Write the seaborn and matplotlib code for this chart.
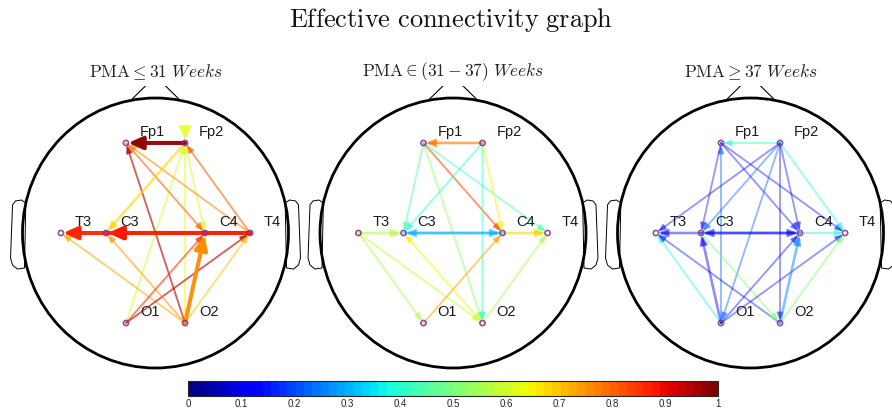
import numpy as np
import pandas as pd
import matplotlib
matplotlib.use("Agg")
import matplotlib.pyplot as plt
from matplotlib.patches import FancyArrowPatch, Ellipse, ArrowStyle
from matplotlib.cm import ScalarMappable
from matplotlib.colors import Normalize
import seaborn as sns

# ---------------- data ----------------
title = r"$\mathrm{Effective\ connectivity\ graph}$"
panel_titles = [r"$\mathrm{PMA} \leq 31\ Weeks$",
                r"$\mathrm{PMA} \in (31-37)\ Weeks$",
                r"$\mathrm{PMA} \geq 37\ Weeks$"]
electrodes = ["Fp1", "Fp2", "T3", "C3", "C4", "T4", "O1", "O2"]

# group 1: PMA <= 31 weeks
g1_source = ["O2", "O1", "Fp2", "O2", "Fp2", "T4", "O1", "O2", "T4", "O2", "O2",
             "Fp1", "O1", "O2", "Fp2", "C4", "T4", "T4"]
g1_target = ["Fp2", "Fp2", "C4", "T3", "C3", "Fp1", "T4", "T4", "Fp2", "C3", "Fp1",
             "C4", "C4", "C4", "Fp1", "C3", "C3", "T3"]
g1_strength = [0.64, 0.60, 0.60, 0.72, 0.68, 0.75, 0.95, 0.69, 0.80, 0.74, 0.95,
               0.80, 0.85, 0.76, 0.97, 0.87, 0.88, 0.87]
g1_weight = [1, 1, 1, 1, 2, 1, 1, 1, 1, 1, 1,
             1, 1, 3, 3, 3, 3, 3]

# group 2: PMA in (31-37) weeks
g2_source = ["Fp1", "Fp1", "Fp1", "Fp1", "Fp2", "Fp2", "Fp2", "T3", "T3", "T3",
             "O2", "O1", "O2", "C4", "C4", "C3", "Fp2"]
g2_target = ["C3", "O2", "C4", "T4", "C3", "O2", "C4", "C3", "O1", "O2",
             "C3", "C4", "T4", "T4", "C3", "C4", "Fp1"]
g2_strength = [0.45, 0.53, 0.82, 0.43, 0.38, 0.40, 0.64, 0.57, 0.55, 0.58,
               0.65, 0.72, 0.55, 0.68, 0.30, 0.30, 0.77]
g2_weight = [1, 1, 1, 1, 1, 1, 1, 2, 1, 1,
             1, 1, 1, 2, 2, 2, 2]

# group 3: PMA >= 37 weeks
g3_source = ["Fp2", "O1", "Fp1", "Fp1", "Fp1", "Fp2", "Fp2", "Fp2", "Fp2", "Fp2",
             "Fp2", "C4", "O1", "O2", "C3", "O1", "O1", "O2", "C3", "C4", "C3",
             "O1", "O2"]
g3_target = ["Fp1", "Fp1", "C3", "C4", "T4", "T3", "C3", "O1", "O2", "C4",
             "T4", "T4", "T3", "T3", "O2", "C4", "T4", "T4", "T3", "C3", "C4",
             "C3", "C4"]
g3_strength = [0.40, 0.22, 0.10, 0.11, 0.12, 0.12, 0.22, 0.22, 0.07, 0.10,
               0.40, 0.40, 0.40, 0.13, 0.50, 0.14, 0.13, 0.50, 0.10, 0.10, 0.10,
               0.11, 0.26]
g3_weight = [1, 1, 1, 1, 1, 1, 1, 1, 1, 1,
             1, 1, 1, 1, 1, 1, 1, 1, 2, 2, 2,
             2, 2]

cbar_ticks = [0, 0.1, 0.2, 0.3, 0.4, 0.5, 0.6, 0.7, 0.8, 0.9, 1]
cbar_ticklabels = ["0", "0.1", "0.2", "0.3", "0.4", "0.5", "0.6", "0.7", "0.8", "0.9", "1"]

groups = [
    (g1_source, g1_target, g1_strength, g1_weight),
    (g2_source, g2_target, g2_strength, g2_weight),
    (g3_source, g3_target, g3_strength, g3_weight),
]

# ---------------- layout (positions / styles) ----------------
elec_pos = {
    "Fp1": (-0.222, 0.677), "Fp2": (0.222, 0.677),
    "T3": (-0.711, 0.0), "C3": (-0.372, 0.0),
    "C4": (0.372, 0.0), "T4": (0.711, 0.0),
    "O1": (-0.222, -0.677), "O2": (0.222, -0.677),
}
ear_x = [0.975, 1.008, 1.053, 1.075, 1.083, 1.090, 1.075, 1.038, 0.985]
ear_y = [0.226, 0.248, 0.241, 0.211, 0.0, -0.188, -0.241, -0.271, -0.263]

sns.set_style("white")
plt.rcParams["font.family"] = ["Liberation Sans", "DejaVu Sans"]
plt.rcParams["mathtext.fontset"] = "cm"

W, H = 892, 412
fig = plt.figure(figsize=(W / 100, H / 100), dpi=100)

cmap = plt.get_cmap("jet", 64)
norm = Normalize(0, 1)
purple = "#7E2F8E"

lw_map = {1: 1.35, 2: 1.9, 3: 2.9}
head_map = {1: (4.4, 1.8), 2: (5.0, 2.1), 3: (8.5, 3.8)}


def edge_alpha(w, v):
    if w == 3:
        return 0.95
    if w == 2:
        return 0.42 + 0.28 * v
    return 0.38 + 0.25 * v


half_w, half_h = 148.75, 147.0
R = 133.0

for i, (src, dst, val, wgt) in enumerate(groups):
    cx = 155.5 + 297.5 * i
    cy = 233.0
    ax = fig.add_axes([(cx - half_w) / W, (H - cy - half_h) / H, 2 * half_w / W, 2 * half_h / H])
    ax.set_xlim(-half_w / R, half_w / R)
    ax.set_ylim(-half_h / R, half_h / R)
    ax.axis("off")

    # head outline, nose, ears
    ax.add_patch(Ellipse((0, 0), 2.0, 2.03, fill=False, lw=2.0, color="black", zorder=1))
    ax.plot([-0.175, 0, 0.175], [1.008, 1.18, 1.008], color="black", lw=0.8, zorder=1)
    ax.plot(ear_x + [ear_x[0]], ear_y + [ear_y[0]], color="black", lw=0.7, zorder=1)
    ax.plot([-x for x in ear_x] + [-ear_x[0]], ear_y + [ear_y[0]], color="black", lw=0.7, zorder=1)

    # edges
    edges = pd.DataFrame({"src": src, "dst": dst, "val": val, "w": wgt})
    edges = edges.sort_values(["w"], kind="stable")
    for _, e in edges.iterrows():
        p0 = elec_pos[e["src"]]
        p1 = elec_pos[e["dst"]]
        w = int(e["w"])
        hl, hw = head_map[w]
        style = ArrowStyle("-|>", head_length=hl, head_width=hw)
        arr = FancyArrowPatch(p0, p1, arrowstyle=style, mutation_scale=1, lw=lw_map[w],
                              color=cmap(norm(e["val"])), alpha=edge_alpha(w, e["val"]),
                              shrinkA=0, shrinkB=1.5, zorder=3)
        ax.add_patch(arr)

    # the downward head drawn above Fp2 in group 1
    if i == 0:
        fx, fy = elec_pos["Fp2"]
        v = g1_strength[0]
        head = FancyArrowPatch((fx, fy + 0.13), (fx, fy + 0.025),
                               arrowstyle=ArrowStyle("-|>", head_length=9, head_width=4.2),
                               mutation_scale=1, lw=0.8, color=cmap(norm(v)), alpha=0.75,
                               shrinkA=0, shrinkB=0, zorder=3)
        ax.add_patch(head)

    # electrodes
    df = pd.DataFrame({"name": electrodes,
                       "x": [elec_pos[n][0] for n in electrodes],
                       "y": [elec_pos[n][1] for n in electrodes]})
    sns.scatterplot(data=df, x="x", y="y", ax=ax, s=14, facecolor="none",
                    edgecolor=purple, linewidth=1.2, alpha=0.85, zorder=5, legend=False)
    for _, r in df.iterrows():
        ax.text(r["x"] + 0.105, r["y"] + 0.083, r["name"], fontsize=10.5, color="#1a1a1a",
                ha="left", va="center", zorder=6)
    ax.set_xlabel("")
    ax.set_ylabel("")

    fig.text(cx / W, 1 - 72 / H, panel_titles[i], ha="center", va="center",
             fontsize=12.5, color="#222222")

fig.text(451 / W, 1 - 20 / H, title, ha="center", va="center", fontsize=19, color="#111111")

# colorbar
cax = fig.add_axes([188 / W, (H - 396) / H, 530 / W, 15 / H])
sm = ScalarMappable(norm=norm, cmap=cmap)
cb = fig.colorbar(sm, cax=cax, orientation="horizontal")
cb.set_ticks(cbar_ticks)
cb.set_ticklabels(cbar_ticklabels)
cax.tick_params(axis="x", direction="in", length=3, width=0.6, labelsize=7,
                colors="#262626", pad=2.5)
cb.outline.set_linewidth(0.8)
cb.outline.set_edgecolor("#262626")

fig.savefig("out.png", dpi=100)
